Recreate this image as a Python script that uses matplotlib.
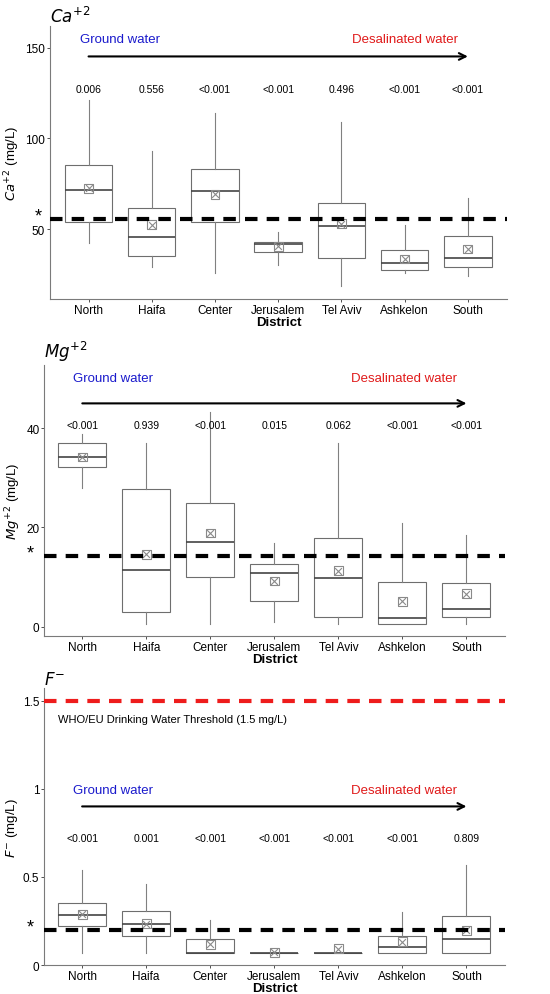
import numpy as np
import matplotlib
matplotlib.use("Agg")
import matplotlib.pyplot as plt

plt.rcParams['font.family'] = ['Liberation Sans', 'DejaVu Sans']

districts = ["North", "Haifa", "Center", "Jerusalem", "Tel Aviv", "Ashkelon", "South"]

# Ca+2 (mg/L)
ca_whislo = [42.1, 29.2, 26.1, 30.1, 18.4, 26.1, 24.3]
ca_q1 = [54.0, 35.1, 54.0, 37.5, 34.2, 27.6, 29.0]
ca_med = [71.7, 45.8, 71.1, 41.7, 52.0, 31.1, 34.0]
ca_q3 = [85.3, 61.6, 83.3, 43.0, 64.3, 38.6, 46.3]
ca_whishi = [121.1, 93.0, 114.2, 48.2, 109.2, 52.2, 67.1]
ca_mean = [72.6, 52.4, 69.1, 40.6, 53.1, 33.5, 39.0]
ca_p = ["0.006", "0.556", "<0.001", "<0.001", "0.496", "<0.001", "<0.001"]
ca_ref = 55.5

# Mg+2 (mg/L)
mg_whislo = [28.0, 0.6, 0.6, 0.9, 0.6, 0.6, 0.6]
mg_q1 = [32.1, 2.9, 10.0, 5.2, 1.9, 0.6, 1.9]
mg_med = [34.1, 11.5, 17.0, 10.9, 9.9, 1.8, 3.5]
mg_q3 = [37.0, 27.7, 25.0, 12.6, 17.9, 9.1, 8.9]
mg_whishi = [38.9, 37.0, 43.3, 16.8, 37.0, 21.0, 18.5]
mg_mean = [34.2, 14.6, 18.9, 9.2, 11.3, 5.1, 6.7]
mg_p = ["<0.001", "0.939", "<0.001", "0.015", "0.062", "<0.001", "<0.001"]
mg_ref = 14.3

# F- (mg/L)
f_whislo = [0.071, 0.071, 0.071, 0.071, 0.071, 0.071, 0.071]
f_q1 = [0.222, 0.165, 0.071, 0.071, 0.071, 0.071, 0.071]
f_med = [0.282, 0.233, 0.071, 0.071, 0.071, 0.101, 0.147]
f_q3 = [0.351, 0.305, 0.145, 0.071, 0.071, 0.165, 0.276]
f_whishi = [0.541, 0.460, 0.254, 0.071, 0.071, 0.301, 0.570]
f_mean = [0.288, 0.235, 0.117, 0.073, 0.092, 0.133, 0.197]
f_p = ["<0.001", "0.001", "<0.001", "<0.001", "<0.001", "<0.001", "0.809"]
f_ref = 0.2
who_limit = 1.5

panels = [
    dict(data=(ca_whislo, ca_q1, ca_med, ca_q3, ca_whishi, ca_mean), p=ca_p, ref=ca_ref,
         title=r"$\it{Ca}^{+2}$", ylabel=r"$\it{Ca}^{+2}$ (mg/L)",
         pos=[0.0909, 0.6985, 0.831, 0.2744], ylim=(11.5, 162), xlim=(0.39, 7.62),
         yticks=[50, 100, 150], yticklabels=["50", "100", "150"],
         y_p=127.5, y_arrow=145.2, y_text=155, star_x=-0.025),
    dict(data=(mg_whislo, mg_q1, mg_med, mg_q3, mg_whishi, mg_mean), p=mg_p, ref=mg_ref,
         title=r"$\it{Mg}^{+2}$", ylabel=r"$\it{Mg}^{+2}$ (mg/L)",
         pos=[0.0806, 0.3601, 0.8374, 0.2724], ylim=(-1.8, 52.8), xlim=(0.407, 7.6),
         yticks=[0, 20, 40], yticklabels=["0", "20", "40"],
         y_p=40.7, y_arrow=45.0, y_text=50.1, star_x=-0.03),
    dict(data=(f_whislo, f_q1, f_med, f_q3, f_whishi, f_mean), p=f_p, ref=f_ref,
         title=r"$\it{F}^{-}$", ylabel=r"$\it{F}^{-}$ (mg/L)",
         pos=[0.0806, 0.0291, 0.8374, 0.2781], ylim=(0, 1.57), xlim=(0.41, 7.6),
         yticks=[0, 0.5, 1, 1.5], yticklabels=["0", "0.5", "1", "1.5"],
         y_p=0.718, y_arrow=0.90, y_text=0.996, star_x=-0.03),
]

fig = plt.figure(figsize=(5.5, 9.95), dpi=100)
x = np.arange(1, len(districts) + 1)

for i, pn in enumerate(panels):
    ax = fig.add_axes(pn['pos'])
    whislo, q1, med, q3, whishi, mean = pn['data']
    stats = []
    for k in range(len(districts)):
        stats.append(dict(whislo=whislo[k], q1=q1[k], med=med[k], q3=q3[k],
                          whishi=whishi[k], fliers=[]))
    ax.bxp(stats, positions=x, widths=0.75, showcaps=False, patch_artist=True,
           boxprops=dict(facecolor='white', edgecolor='#6e6e6e', linewidth=0.8),
           medianprops=dict(color='#444444', linewidth=1.2),
           whiskerprops=dict(color='#808080', linewidth=0.8), zorder=2)
    ax.scatter(x, mean, marker='s', s=40, facecolors='none', edgecolors='#8a8a8a',
               linewidths=0.8, zorder=3)
    ax.scatter(x, mean, marker='x', s=24, color='#8a8a8a', linewidths=0.8, zorder=3)

    ax.axhline(pn['ref'], color='black', lw=3, dashes=(3, 2.2), zorder=4)
    # star marking the reference line, just left of the axis
    ax.annotate("*", xy=(pn['star_x'], pn['ref']), xycoords=ax.get_yaxis_transform(),
                xytext=(0, 2), textcoords='offset points',
                ha='center', va='center', fontsize=13)

    if i == 2:
        ax.axhline(who_limit, color='#ee1c1c', lw=3, dashes=(3, 2.2), zorder=4)
        ax.text(0.62, 1.397, "WHO/EU Drinking Water Threshold (1.5 mg/L)",
                fontsize=8, ha='left', va='center')

    for k in range(len(districts)):
        ax.text(x[k], pn['y_p'], pn['p'][k], ha='center', va='center', fontsize=7.5)

    ax.annotate("", xy=(x[-1], pn['y_arrow']), xytext=(x[0], pn['y_arrow']),
                arrowprops=dict(arrowstyle='->', color='black', lw=1.5,
                                mutation_scale=12, shrinkA=0, shrinkB=0))
    ax.text(x[0] - 0.14, pn['y_text'], "Ground water", color='#1a1acc',
            fontsize=9.5, ha='left', va='center')
    ax.text(x[-1] - 0.15, pn['y_text'], "Desalinated water", color='#e01a1a',
            fontsize=9.5, ha='right', va='center')

    ax.set_xlim(pn['xlim'])
    ax.set_ylim(pn['ylim'])
    ax.set_xticks(x)
    ax.set_xticklabels(districts, fontsize=8.5)
    ax.set_yticks(pn['yticks'])
    ax.set_yticklabels(pn['yticklabels'], fontsize=8.5)
    ax.set_xlabel("District", fontsize=9.5, fontweight='bold', labelpad=0)
    ax.set_ylabel(pn['ylabel'], fontsize=9.5, labelpad=2)
    ax.tick_params(length=2, width=0.6, colors='#333333', labelcolor='black', pad=1.5)
    for s in ['top', 'right']:
        ax.spines[s].set_visible(False)
    for s in ['left', 'bottom']:
        ax.spines[s].set_color('#7a7a7a')
        ax.spines[s].set_linewidth(0.8)
    ax.text(0.0, 1.005, pn['title'], transform=ax.transAxes, fontsize=12,
            ha='left', va='bottom')

fig.savefig("out.png", dpi=100)
